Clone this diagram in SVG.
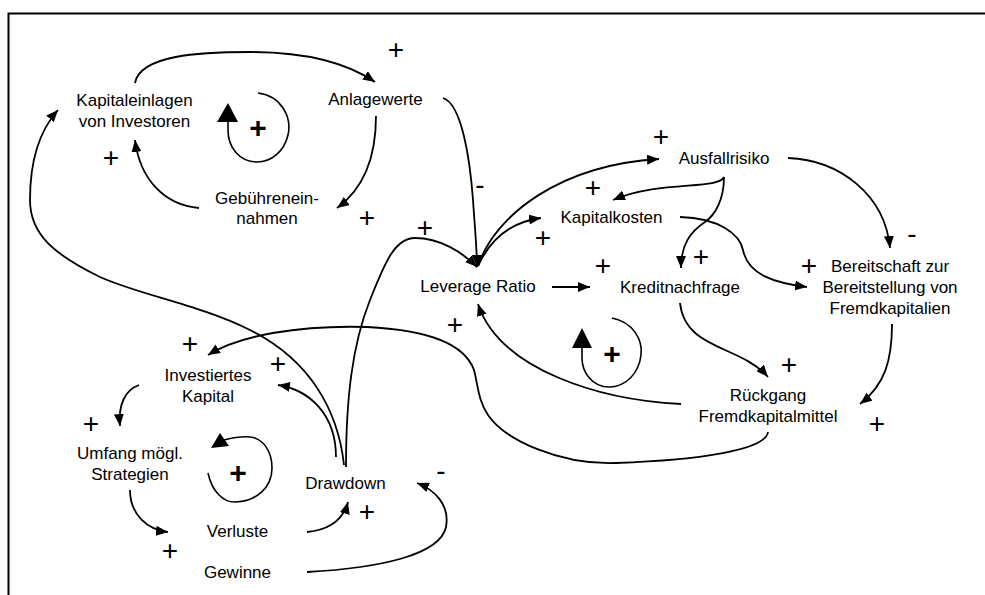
<svg xmlns="http://www.w3.org/2000/svg" width="985" height="595" viewBox="0 0 985 595">
<style>
.t{font-family:"Liberation Sans",Arial,sans-serif;font-size:17px;fill:#000;text-anchor:middle}
.s{font-family:"Liberation Sans",Arial,sans-serif;font-size:28px;fill:#000;text-anchor:middle}
.b{font-family:"Liberation Sans",Arial,sans-serif;font-size:30px;font-weight:bold;fill:#000;text-anchor:middle}
.c{fill:none;stroke:#000;stroke-width:1.8;marker-end:url(#ah)}
.l{fill:none;stroke:#000;stroke-width:1.6}
</style>
<defs>
<marker id="ah" viewBox="0 0 12 10" refX="12" refY="5" markerWidth="12" markerHeight="10" markerUnits="userSpaceOnUse" orient="auto"><path d="M0,0 L12,5 L0,10 z" fill="#000"/></marker>
</defs>
<rect x="0" y="0" width="985" height="595" fill="#fff"/>
<rect x="8.5" y="13.5" width="990" height="600" fill="none" stroke="#000" stroke-width="2"/>

<g id="connectors">
<path class="c" d="M135,83 C140,55 200,52 250,52 C310,52 350,65 375,82"/>
<path class="c" d="M376,116 C376,160 362,190 337,208"/>
<path class="c" d="M199,208 C165,205 140,180 135,140"/>
<path class="c" d="M443,98 C462,104 470,160 473,200 C475,230 477,250 477,267"/>
<path class="c" d="M346,467 C346,400 352,345 370,300 C385,262 395,238 415,238 C440,238 462,252 477,267"/>
<path class="c" d="M344,465 C338,410 310,360 250,330 C200,305 140,295 100,277 C55,255 30,235 30,200 C30,160 40,130 58,110"/>
<path class="c" d="M336,457 C336,415 310,390 278,385"/>
<path class="c" d="M139,385 C125,390 118,405 120,426"/>
<path class="c" d="M130,490 C130,515 148,530 168,532"/>
<path class="c" d="M307,532 C328,530 343,520 348,502"/>
<path class="c" d="M307,572 C380,568 440,555 446,527 C450,505 435,490 417,483"/>
<path class="c" d="M768,432 C766,450 700,460 616,463 C560,465 505,440 488,415 C478,400 478,385 474,370 C465,345 430,330 367,327 C300,325 240,335 208,355"/>
<path class="c" d="M681,404 C600,400 500,370 478,304"/>
<path class="c" d="M552,287 L590,287"/>
<path class="c" d="M478,266 C495,215 560,165 659,159"/>
<path class="c" d="M478,266 C490,240 510,222 541,218"/>
<path class="c" d="M724,177 C718,190 660,180 613,200"/>
<path class="c" d="M724,177 C724,200 715,215 705,222 C690,232 681,245 681,268"/>
<path class="c" d="M680,217 C720,218 740,235 743,250 C748,275 775,283 807,287"/>
<path class="c" d="M788,158 C840,160 885,195 890,248"/>
<path class="c" d="M892,324 C892,360 885,385 860,404"/>
<path class="c" d="M680,303 C685,350 740,345 768,377"/>
</g>

<g id="polarity">
<text class="s" x="396" y="59">+</text>
<text class="s" x="367" y="227">+</text>
<text class="s" x="111" y="167">+</text>
<text class="s" x="480" y="193.5">-</text>
<text class="s" x="425" y="237">+</text>
<text class="s" x="278" y="373">+</text>
<text class="s" x="91" y="433">+</text>
<text class="s" x="170" y="560">+</text>
<text class="s" x="367" y="521">+</text>
<text class="s" x="441" y="479.5">-</text>
<text class="s" x="190" y="353">+</text>
<text class="s" x="455" y="334">+</text>
<text class="s" x="603" y="275">+</text>
<text class="s" x="661" y="146">+</text>
<text class="s" x="543" y="247">+</text>
<text class="s" x="593" y="197">+</text>
<text class="s" x="701" y="266">+</text>
<text class="s" x="809" y="275">+</text>
<text class="s" x="912" y="242.5">-</text>
<text class="s" x="877" y="433">+</text>
<text class="s" x="789" y="374">+</text>
</g>

<g id="loop1">
<path class="l" d="M258,93 C282,96 292,118 288,135 C284,152 271,162 257,162 C240,162 228,148 228,130 L228,122"/>
<polygon points="217,122 238,122 228,103" fill="#000"/>
<text class="b" x="258" y="138">+</text>
</g>
<g id="loop2">
<path class="l" d="M612,318 C633,322 643,340 641,355 C639,373 626,387 609,387 C592,387 582,372 582,358 L582,348"/>
<polygon points="572,348 592,348 582,328" fill="#000"/>
<text class="b" x="612" y="364">+</text>
</g>
<g id="loop3">
<path class="l" d="M208,473 C212,492 224,503 236,502 C256,501 272,488 272,468 C272,450 262,438 250,437 C240,436 232,438 224,440"/>
<polygon points="211,448 220,433 229,446" fill="#000"/>
<text class="b" x="238" y="483">+</text>
</g>

<g id="kapitaleinlagen"><text class="t" x="134.5" y="106">Kapitaleinlagen</text><text class="t" x="134.5" y="127">von Investoren</text></g>
<g id="anlagewerte"><text class="t" x="375.5" y="105">Anlagewerte</text></g>
<g id="gebuehreneinnahmen"><text class="t" x="267" y="204">Gebührenein-</text><text class="t" x="267" y="224">nahmen</text></g>
<g id="leverage"><text class="t" x="478" y="292">Leverage Ratio</text></g>
<g id="ausfallrisiko"><text class="t" x="724" y="164">Ausfallrisiko</text></g>
<g id="kapitalkosten"><text class="t" x="611.5" y="223">Kapitalkosten</text></g>
<g id="kreditnachfrage"><text class="t" x="680" y="293">Kreditnachfrage</text></g>
<g id="bereitschaft"><text class="t" x="890" y="272">Bereitschaft zur</text><text class="t" x="890" y="293">Bereitstellung von</text><text class="t" x="890" y="314">Fremdkapitalien</text></g>
<g id="rueckgang"><text class="t" x="768" y="401">Rückgang</text><text class="t" x="768" y="422">Fremdkapitalmittel</text></g>
<g id="investiertes"><text class="t" x="208" y="381">Investiertes</text><text class="t" x="208" y="402">Kapital</text></g>
<g id="umfang"><text class="t" x="130" y="459">Umfang mögl.</text><text class="t" x="130" y="480">Strategien</text></g>
<g id="drawdown"><text class="t" x="345.5" y="489">Drawdown</text></g>
<g id="verluste"><text class="t" x="237.5" y="537">Verluste</text></g>
<g id="gewinne"><text class="t" x="237.5" y="578">Gewinne</text></g>
</svg>
